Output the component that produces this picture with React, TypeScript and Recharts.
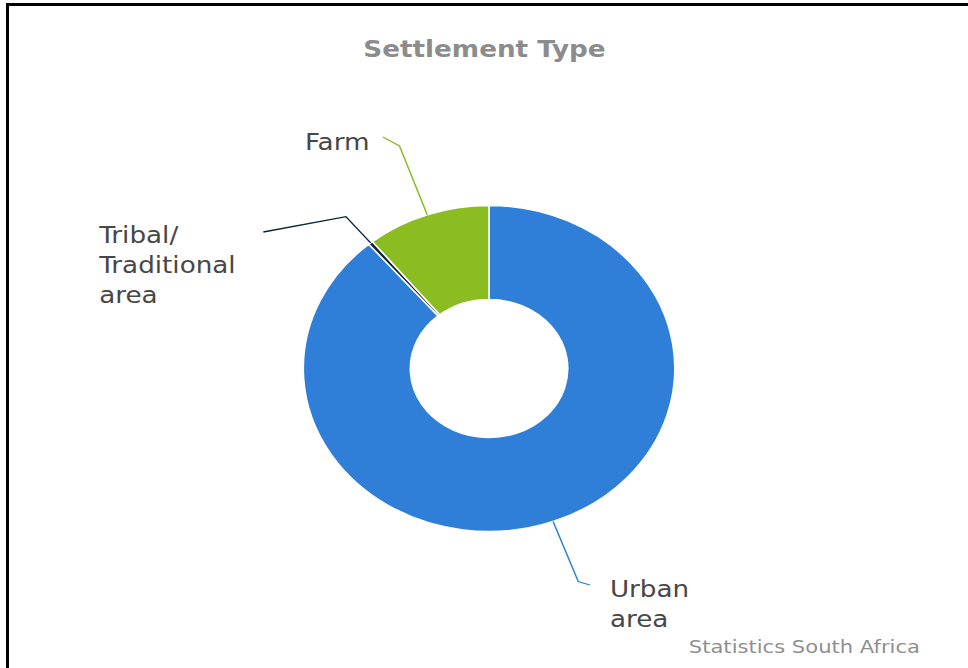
import { PieChart, Pie, Cell } from 'recharts';

// Settlement type shares (%), clockwise from 12 o'clock
const SLICE_NAMES = ['Urban area', 'Tribal/ Traditional area', 'Farm'];
const SLICE_VALUES = [88.8, 0.4, 10.8];
const SLICE_COLORS = ['#2f7ed8', '#0d233a', '#8bbc21'];
const LABEL_LINES = [['Urban', 'area'], ['Tribal/', 'Traditional', 'area'], ['Farm']];

const TITLE = 'Settlement Type';
const CREDITS = 'Statistics South Africa';

const data = SLICE_NAMES.map((name, i) => ({ name, value: SLICE_VALUES[i] }));

// the source picture is stretched sideways, so the whole chart is drawn narrow and scaled in x
const STRETCH = 1.14;
const W = Math.round(968 / STRETCH);
const H = 668;
const CX = 429;
const CY = 368.5;

const FONT = '"DejaVu Sans", Verdana, sans-serif';
const LABEL_SIZE = 23;
const LINE_H = 30;

// label placement relative to pie centre: bend radius along the slice middle,
// connector end (ax, ay) and first text baseline (tx, ty)
const LABEL_LAYOUT: Record<string, { bend: number; ax: number; ay: number; tx: number; ty: number }> = {
  'Urban area': { bend: 227, ax: 88.5, ay: 216.5, tx: 106, ty: 228.5 },
  'Tribal/ Traditional area': { bend: 197, ax: -198, ay: -136.5, tx: -342, ty: -125.5 },
  Farm: { bend: 236, ax: -93, ay: -231.5, tx: -161.5, ty: -218.5 },
};

const RAD = Math.PI / 180;

const renderLabel = (props: any) => {
  const { cx, cy, midAngle, outerRadius, name, index } = props;
  const lay = LABEL_LAYOUT[name];
  if (!lay) return null;
  const cos = Math.cos(-midAngle * RAD);
  const sin = Math.sin(-midAngle * RAD);
  const ex = cx + outerRadius * cos;
  const ey = cy + outerRadius * sin;
  const bx = cx + lay.bend * cos;
  const by = cy + lay.bend * sin;
  const ax = cx + lay.ax;
  const ay = cy + lay.ay;
  const color = SLICE_COLORS[index % SLICE_COLORS.length];
  return (
    <g key={`lbl-${index}`}>
      <path
        d={`M${ax},${ay} Q${bx},${by} ${bx},${by} L${ex},${ey}`}
        fill="none"
        stroke={color}
        strokeWidth={1.3}
      />
      <text
        x={cx + lay.tx}
        y={cy + lay.ty}
        fill="#474747"
        fontSize={LABEL_SIZE}
        fontFamily={FONT}
        textAnchor="start"
      >
        {LABEL_LINES[index].map((line, i) => (
          <tspan key={i} x={cx + lay.tx} dy={i === 0 ? 0 : LINE_H}>
            {line}
          </tspan>
        ))}
      </text>
    </g>
  );
};

export default function App() {
  return (
    <div
      style={{
        position: 'absolute',
        left: 0,
        top: 0,
        width: 968,
        height: 668,
        overflow: 'hidden',
        background: '#fff',
      }}
    >
      <div
        style={{
          position: 'absolute',
          left: 0,
          top: 0,
          width: W,
          height: H,
          transform: `scaleX(${STRETCH})`,
          transformOrigin: '0 0',
        }}
      >
        <PieChart width={W} height={H} margin={{ top: 0, right: 0, bottom: 0, left: 0 }}>
          <Pie
            data={data}
            dataKey="value"
            nameKey="name"
            cx={CX}
            cy={CY}
            innerRadius={69}
            outerRadius={163}
            startAngle={90}
            endAngle={-270}
            stroke="#ffffff"
            strokeWidth={1.5}
            labelLine={false}
            label={renderLabel}
            isAnimationActive={false}
          >
            {data.map((entry, index) => (
              <Cell key={`cell-${entry.name}`} fill={SLICE_COLORS[index]} />
            ))}
          </Pie>
        </PieChart>
        <svg
          width={W}
          height={H}
          style={{ position: 'absolute', left: 0, top: 0, pointerEvents: 'none' }}
        >
          <text
            x={425}
            y={57}
            textAnchor="middle"
            fill="#8c8c8c"
            fontSize={23}
            fontWeight="bold"
            fontFamily={FONT}
          >
            {TITLE}
          </text>
          <text x={807} y={653} textAnchor="end" fill="#8f8f8f" fontSize={18.5} fontFamily={FONT}>
            {CREDITS}
          </text>
        </svg>
      </div>
      <div
        style={{
          position: 'absolute',
          left: 6,
          top: 3,
          width: 1000,
          height: 700,
          borderLeft: '3px solid #000',
          borderTop: '3px solid #000',
        }}
      />
    </div>
  );
}
